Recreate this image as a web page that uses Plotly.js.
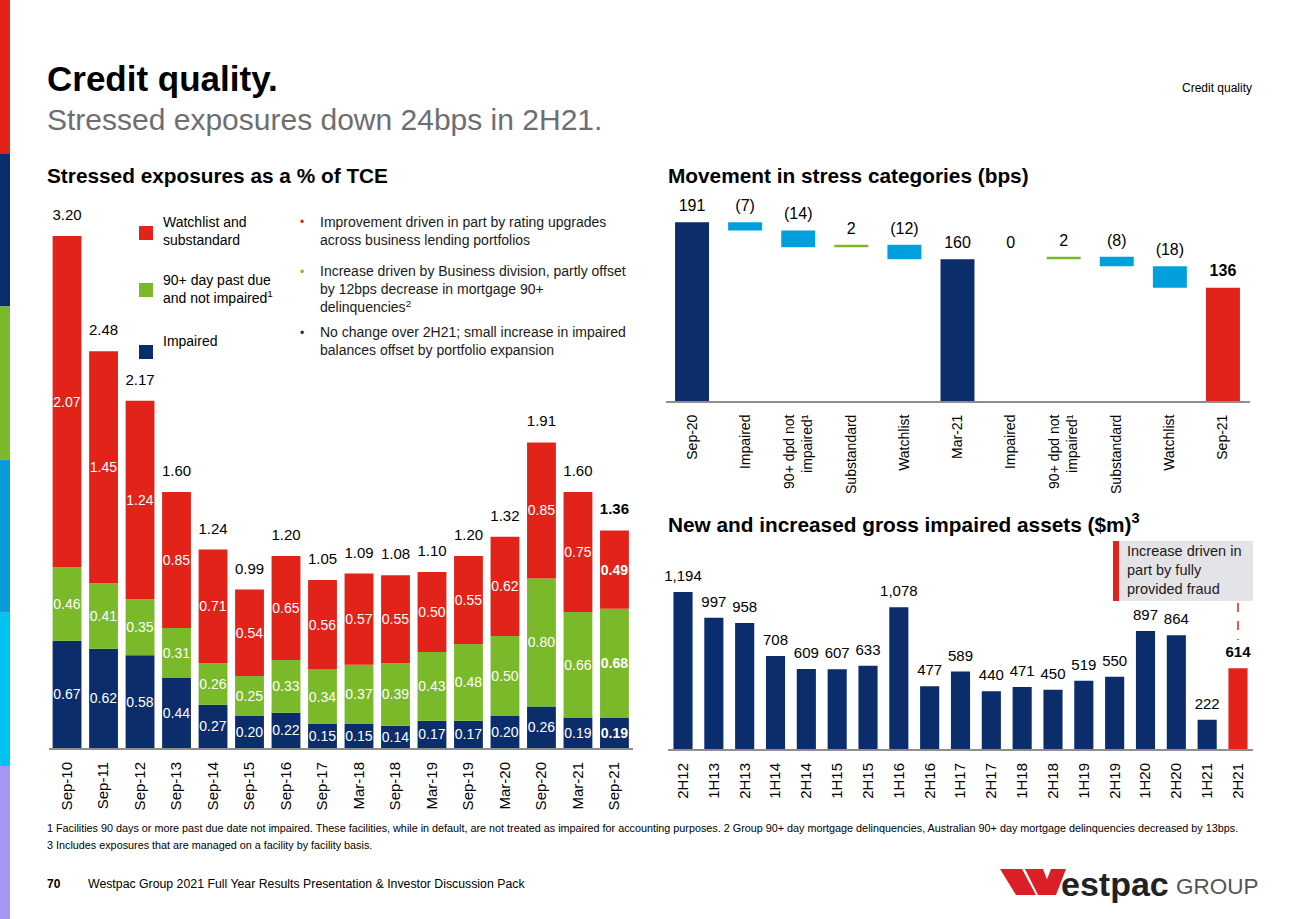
<!DOCTYPE html>
<html>
<head>
<meta charset="utf-8">
<script src="https://cdn.plot.ly/plotly-3.0.1.min.js"></script>
<style>html,body{margin:0;padding:0;background:#fff}#chart{width:1300px;height:919px}</style>
</head>
<body>
<div id="chart"></div>
<script>
// ---------- Data ----------
// Stressed exposures as a % of TCE
const periods = ['Sep-10','Sep-11','Sep-12','Sep-13','Sep-14','Sep-15','Sep-16','Sep-17','Mar-18','Sep-18','Mar-19','Sep-19','Mar-20','Sep-20','Mar-21','Sep-21'];
const impaired  = [0.67,0.62,0.58,0.44,0.27,0.20,0.22,0.15,0.15,0.14,0.17,0.17,0.20,0.26,0.19,0.19];
const pastDue90 = [0.46,0.41,0.35,0.31,0.26,0.25,0.33,0.34,0.37,0.39,0.43,0.48,0.50,0.80,0.66,0.68];
const watchlist = [2.07,1.45,1.24,0.85,0.71,0.54,0.65,0.56,0.57,0.55,0.50,0.55,0.62,0.85,0.75,0.49];
const totals    = [3.20,2.48,2.17,1.60,1.24,0.99,1.20,1.05,1.09,1.08,1.10,1.20,1.32,1.91,1.60,1.36];

// Movement in stress categories (bps)
const moveLabels = ['Sep-20','Impaired','90+ dpd not<br>impaired¹','Substandard','Watchlist','Mar-21','Impaired','90+ dpd not<br>impaired¹','Substandard','Watchlist','Sep-21'];
const moveValues = [191,-7,-14,2,-12,160,0,2,-8,-18,136];
const moveKinds  = ['total','relative','relative','relative','relative','total','relative','relative','relative','relative','total'];

// New and increased gross impaired assets ($m)
const halves = ['2H12','1H13','2H13','1H14','2H14','1H15','2H15','1H16','2H16','1H17','2H17','1H18','2H18','1H19','2H19','1H20','2H20','1H21','2H21'];
const newImpaired = [1194,997,958,708,609,607,633,1078,477,589,440,471,450,519,550,897,864,222,614];

// ---------- Styling ----------
const NAVY='#0b2d6b', RED='#e2231a', GREEN='#7ab929', LBLUE='#00a0dd';
const FONT='Liberation Sans, Arial, sans-serif';
const W=1300, H=919;
const px = x => x/W, py = y => 1 - y/H;
const last = a => a.length-1;

// ---------- Left stacked chart ----------
const base2 = impaired.map(v=>v);
const base3 = impaired.map((v,i)=>v+pastDue90[i]);
const fmt2 = (arr) => arr.map((v,i)=> i===last(arr) ? '<b>'+v.toFixed(2)+'</b>' : v.toFixed(2));
const stackCommon = {type:'bar', x:periods, xaxis:'x', yaxis:'y', width:0.79,
  textposition:'inside', insidetextanchor:'middle', constraintext:'none', textangle:0,
  textfont:{color:'#ffffff', size:14, family:FONT}, hoverinfo:'skip', showlegend:false};
const hiddenMarker = s => ({size:s, color:'rgba(0,0,0,0)', line:{width:0}});

const traces = [
  Object.assign({}, stackCommon, {y:impaired, base:0, marker:{color:NAVY}, text:fmt2(impaired)}),
  Object.assign({}, stackCommon, {y:pastDue90, base:base2, marker:{color:GREEN}, text:fmt2(pastDue90)}),
  Object.assign({}, stackCommon, {y:watchlist, base:base3, marker:{color:RED}, text:fmt2(watchlist)}),
  {type:'scatter', mode:'markers+text', x:periods, y:totals, xaxis:'x', yaxis:'y', marker:hiddenMarker(18),
   text:fmt2(totals), textposition:'top center', textfont:{size:15, color:'#000', family:FONT},
   hoverinfo:'skip', showlegend:false, cliponaxis:false}
];

// ---------- Waterfall ----------
const moveIdx = moveValues.map((v,i)=>i);
const mBase=[], mTop=[], mColor=[];
let level=0;
moveValues.forEach((v,i)=>{
  if(moveKinds[i]==='total'){ mBase.push(0); level=v; mTop.push(v); mColor.push(i===last(moveValues)?RED:NAVY); }
  else { mBase.push(level); mTop.push(Math.max(level, level+v)); level+=v; mColor.push(v<0?LBLUE:(v>0?GREEN:'#e9e5d2')); }
});
const moveText = moveValues.map((v,i)=>{ const s = v<0 ? '('+(-v)+')' : String(v); return i===last(moveValues)?'<b>'+s+'</b>':s; });
traces.push({type:'bar', x:moveIdx, y:moveValues, base:mBase, xaxis:'x2', yaxis:'y2', width:0.64,
  marker:{color:mColor}, hoverinfo:'skip', showlegend:false});
traces.push({type:'scatter', mode:'markers+text', x:moveIdx, y:mTop, xaxis:'x2', yaxis:'y2', text:moveText, marker:hiddenMarker(10),
  textposition:'top center', textfont:{size:16, color:'#000', family:FONT}, hoverinfo:'skip', showlegend:false, cliponaxis:false});

// ---------- Gross impaired assets ----------
const giaColors = newImpaired.map((v,i)=> i===last(newImpaired)?RED:NAVY);
const giaText = newImpaired.map((v,i)=>{ const s=v.toLocaleString('en-US'); return i===last(newImpaired)?'<b>'+s+'</b>':s; });
traces.push({type:'bar', x:halves, y:newImpaired, xaxis:'x3', yaxis:'y3', width:0.62,
  marker:{color:giaColors}, hoverinfo:'skip', showlegend:false});
traces.push({type:'scatter', mode:'markers+text', x:halves, y:newImpaired, xaxis:'x3', yaxis:'y3', text:giaText, marker:hiddenMarker(10),
  textposition:'top center', textfont:{size:15, color:'#000', family:FONT}, hoverinfo:'skip', showlegend:false, cliponaxis:false});

// ---------- Layout ----------
const xCommon = {showgrid:false, zeroline:false, showline:true, linecolor:'#8e8e8e', linewidth:2,
  ticks:'', tickangle:-90, tickfont:{size:15, color:'#000', family:FONT}, fixedrange:true, ticklabelstandoff:6};
const yHidden = {visible:false, fixedrange:true, showgrid:false, zeroline:false};

const ann = [];
const A = (text, x, y, o) => ann.push(Object.assign({text, x:px(x), y:py(y), xref:'paper', yref:'paper',
  xanchor:'left', yanchor:'middle', showarrow:false, align:'left', font:{family:FONT, size:14, color:'#000'}}, o||{}));

A('<b>Credit quality.</b>', 45, 78, {font:{family:FONT, size:35, color:'#000'}});
A('Stressed exposures down 24bps in 2H21.', 45, 120, {font:{family:FONT, size:30, color:'#6d6e71'}});
A('Credit quality', 1254, 88, {xanchor:'right', font:{family:FONT, size:12, color:'#000'}});
A('<b>Stressed exposures as a % of TCE</b>', 45, 175, {font:{family:FONT, size:20.8, color:'#000'}});
A('<b>Movement in stress categories (bps)</b>', 666, 175, {font:{family:FONT, size:20.8, color:'#000'}});
A('<b>New and increased gross impaired assets ($m)<sup>3</sup></b>', 666, 523, {font:{family:FONT, size:20.8, color:'#000'}});

// legend texts
A('Watchlist and<br>substandard', 161, 231);
A('90+ day past due<br>and not impaired<sup>1</sup>', 161, 289);
A('Impaired', 161, 341);

// bullets
A('•', 298, 222, {font:{family:FONT, size:12, color:RED}});
A('Improvement driven in part by rating upgrades<br>across business lending portfolios', 318, 231, {font:{family:FONT, size:14, color:'#1a1a1a'}});
A('•', 298, 272, {font:{family:FONT, size:12, color:GREEN}});
A('Increase driven by Business division, partly offset<br>by 12bps decrease in mortgage 90+<br>delinquencies<sup>2</sup>', 318, 289, {font:{family:FONT, size:14, color:'#1a1a1a'}});
A('•', 298, 333, {font:{family:FONT, size:12, color:NAVY}});
A('No change over 2H21; small increase in impaired<br>balances offset by portfolio expansion', 318, 341, {font:{family:FONT, size:14, color:'#1a1a1a'}});

// callout text
A('Increase driven in<br>part by fully<br>provided fraud', 1125, 570, {font:{family:FONT, size:14.5, color:'#1a1a1a'}});

// footnotes and footer
A('1 Facilities 90 days or more past due date not impaired. These facilities, while in default, are not treated as impaired for accounting purposes. 2 Group 90+ day mortgage delinquencies, Australian 90+ day mortgage delinquencies decreased by 13bps.', 45, 828, {font:{family:FONT, size:10.8, color:'#000'}});
A('3 Includes exposures that are managed on a facility by facility basis.', 45, 845, {font:{family:FONT, size:10.8, color:'#000'}});
A('<b>70</b>', 45, 884, {font:{family:FONT, size:12, color:'#000'}});
A('Westpac Group 2021 Full Year Results Presentation & Investor Discussion Pack', 86, 884, {font:{family:FONT, size:12.3, color:'#000'}});

// logo text
A('<b>estpac</b>', 1059, 884, {font:{family:FONT, size:34, color:'#222'}});
A('GROUP', 1174, 886, {font:{family:FONT, size:22.5, color:'#555'}});

const shapes = [];
const R = (x0,y0,x1,y1,color) => shapes.push({type:'rect', xref:'paper', yref:'paper', x0:px(x0), x1:px(x1), y0:py(y1), y1:py(y0), fillcolor:color, line:{width:0}, layer:'below'});
const P = (pts,color) => shapes.push({type:'path', xref:'paper', yref:'paper', fillcolor:color, line:{width:0},
  path: 'M' + pts.map(p=>px(p[0])+','+py(p[1])).join(' L') + ' Z'});
// left strip
['#e2231a','#0b2d6b','#7ab929','#0a9bd6','#00c2f1','#a397f3'].forEach((c,i)=>R(0, i*153.2, 10, (i+1)*153.2, c));
// legend squares
R(139,226,153,240,RED); R(139,283,153,297,GREEN); R(139,345,153,359,NAVY);
// callout box
R(1113,541,1253,601,'#e4e4e8'); R(1113,541,1119,601,RED);
shapes.push({type:'line', xref:'x3', yref:'paper', x0:last(halves), x1:last(halves), y0:py(603), y1:py(640), line:{color:RED, width:1.5, dash:'dash'}});
// logo mark (stylised W)
const LOGO_RED='#da1f26';
P([[1000,869],[1022,869],[1036,895],[1016,895]], LOGO_RED);
P([[1025,869],[1043,869],[1053,895],[1038,895]], LOGO_RED);
P([[1041,895],[1056,895],[1066,869],[1051,869]], LOGO_RED);

const layout = {
  width:W, height:H, margin:{l:0,r:0,t:0,b:0}, paper_bgcolor:'#fff', plot_bgcolor:'rgba(0,0,0,0)',
  barmode:'overlay', showlegend:false, font:{family:FONT, color:'#000'},
  xaxis: Object.assign({}, xCommon, {domain:[px(48.8), px(632.7)], anchor:'y', type:'category', range:[-0.5, periods.length-0.5]}),
  yaxis: Object.assign({}, yHidden, {domain:[py(748), py(205)], range:[0, 3.394], anchor:'x'}),
  xaxis2: Object.assign({}, xCommon, {domain:[px(665.5), px(1249.5)], anchor:'y2', range:[-0.5, moveValues.length-0.5],
    tickmode:'array', tickvals:moveIdx, ticktext:moveLabels, tickfont:{size:14, color:'#000', family:FONT}}),
  yaxis2: Object.assign({}, yHidden, {domain:[py(401), py(190)], range:[40.8, 218.1], anchor:'x2'}),
  xaxis3: Object.assign({}, xCommon, {domain:[px(667.6), px(1253.4)], anchor:'y3', type:'category', range:[-0.5, halves.length-0.5]}),
  yaxis3: Object.assign({}, yHidden, {domain:[py(749), py(560)], range:[0, 1437], anchor:'x3'}),
  annotations: ann, shapes: shapes
};

Plotly.newPlot('chart', traces, layout, {displayModeBar:false, staticPlot:true});
</script>
</body>
</html>
